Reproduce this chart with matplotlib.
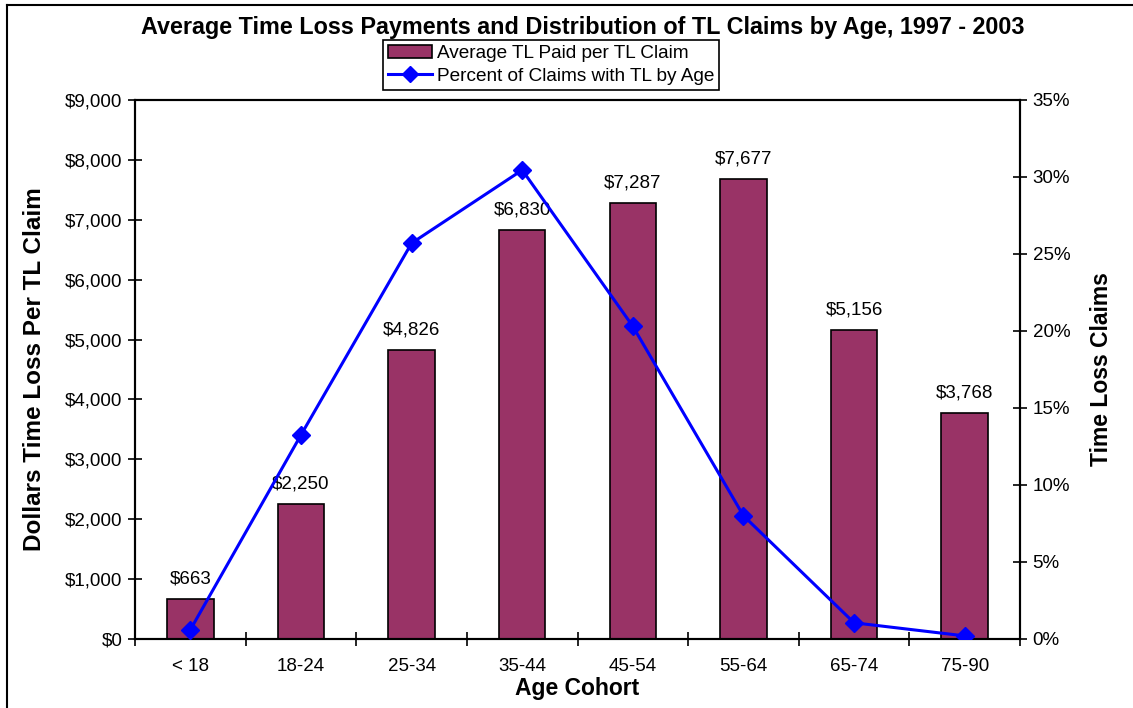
import numpy as np
import matplotlib

matplotlib.use("Agg")
import matplotlib.pyplot as plt
from matplotlib.ticker import FuncFormatter, MultipleLocator
from matplotlib.lines import Line2D

plt.rcParams['font.family'] = ['Liberation Sans', 'DejaVu Sans']

# data
age_groups = ["< 18", "18-24", "25-34", "35-44", "45-54", "55-64", "65-74", "75-90"]
avg_paid = [663, 2250, 4826, 6830, 7287, 7677, 5156, 3768]
pct_claims = [0.6, 13.25, 25.7, 30.45, 20.3, 8.0, 1.05, 0.2]

BAR_COLOR = "#993366"
LINE_COLOR = "#0000FF"

fig = plt.figure(figsize=(11.33, 7.08), dpi=100)
ax = fig.add_axes([0.1192, 0.0975, 0.7811, 0.7613])
x = np.arange(len(age_groups))

ax.bar(x, avg_paid, width=0.42, color=BAR_COLOR, edgecolor="black",
       linewidth=1.2, zorder=2)
for xi, v in zip(x, avg_paid):
    ax.text(xi, v + 190, "${:,}".format(v), ha="center", va="bottom", fontsize=13.5)

ax.set_xlim(-0.5, len(age_groups) - 0.5)
ax.set_ylim(0, 9000)
ax.yaxis.set_major_locator(MultipleLocator(1000))
ax.yaxis.set_major_formatter(FuncFormatter(lambda v, p: "${:,.0f}".format(v)))
ax.set_xticks(x)
ax.set_xticklabels(age_groups)
ax.set_xticks(np.arange(-0.5, len(age_groups)), minor=True)
ax.tick_params(axis="x", which="major", length=0, labelsize=13.5, pad=14)
ax.tick_params(axis="x", which="minor", direction="inout", length=10, width=1.2)
ax.tick_params(axis="y", direction="inout", length=10, width=1.2, labelsize=13.5, pad=4)
for s in ax.spines.values():
    s.set_linewidth(1.5)

ax.set_xlabel("Age Cohort", fontsize=16.5, fontweight="bold", labelpad=1)
ax.set_ylabel("Dollars Time Loss Per TL Claim", fontsize=17.5, fontweight="bold", labelpad=14)

ax2 = ax.twinx()
ax2.plot(x, pct_claims, color=LINE_COLOR, linewidth=2.2, marker="D", markersize=9,
         zorder=3)
ax2.set_ylim(0, 35)
ax2.yaxis.set_major_locator(MultipleLocator(5))
ax2.yaxis.set_major_formatter(FuncFormatter(lambda v, p: "{:.0f}%".format(v)))
ax2.tick_params(axis="y", direction="inout", length=10, width=1.2, labelsize=13.5, pad=4)
ax2.set_ylabel("Time Loss Claims", fontsize=16.5, fontweight="bold", labelpad=14)
for s in ax2.spines.values():
    s.set_linewidth(1.5)

fig.text(0.514, 0.961, "Average Time Loss Payments and Distribution of TL Claims by Age, 1997 - 2003",
         ha="center", va="center", fontsize=16.8, fontweight="bold")

handles = [
    plt.Rectangle((0, 0), 1, 1, facecolor=BAR_COLOR, edgecolor="black", linewidth=1.2),
    Line2D([0], [0], color=LINE_COLOR, linewidth=2.2, marker="D", markersize=8),
]
leg = fig.legend(handles, ["Average TL Paid per TL Claim", "Percent of Claims with TL by Age"],
                 loc="upper left", bbox_to_anchor=(383 / 1133, 1 - 40 / 708),
                 fontsize=13.7, frameon=True, fancybox=False, framealpha=1,
                 edgecolor="black", borderpad=0.25, handlelength=2.3, handletextpad=0.3,
                 labelspacing=0.3, borderaxespad=0)
leg.get_frame().set_linewidth(1.2)
leg.set_zorder(10)

# chart border (left and top edges are visible)
fig.add_artist(Line2D([7 / 1133, 7 / 1133], [0, 1 - 5 / 708], color="black", linewidth=1.5))
fig.add_artist(Line2D([7 / 1133, 1], [1 - 5 / 708, 1 - 5 / 708], color="black", linewidth=1.5))

fig.savefig("out.png", dpi=100)
plt.close(fig)
